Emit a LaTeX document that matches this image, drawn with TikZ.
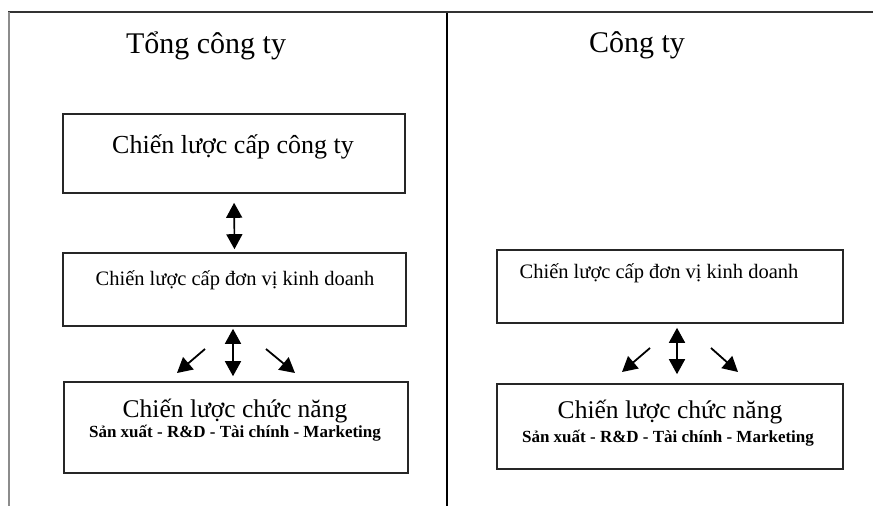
\documentclass[tikz,border=0pt]{standalone}
\usepackage{fontspec}
\setmainfont{Liberation Serif}
\usetikzlibrary{arrows.meta}
\tikzset{
  box/.style={draw=black!85, line width=1.6pt, rectangle, inner sep=0pt},
  lbl/.style={anchor=base, inner sep=0pt},
  tip/.tip={Triangle[length=15pt,width=16pt]},
  dbl/.style={line width=1.6pt, tip-tip},
  one/.style={line width=1.8pt, -tip},
  rule/.style={line width=1.8pt}
}
\newcommand{\fs}[1]{\fontsize{#1}{#1}\selectfont}
\begin{document}
\begin{tikzpicture}[x=1pt, y=-1pt]
\useasboundingbox (0,0) rectangle (873,506);

% frame lines
\coordinate (tl) at (8,12);
\coordinate (tr) at (873,12);
\coordinate (bl) at (9,506);
\coordinate (mt) at (447,13);
\coordinate (mb) at (447,506);
\draw[rule, draw=black!80] (tl) -- (tr);
\draw[line width=2.4pt, draw=black!45] (9,12) -- (bl);
\draw[line width=1.5pt, draw=black] (mt) -- (mb);

% column titles
\node[lbl] (tTong) at (206,53) {\fs{30}Tổng công ty};
\node[lbl] (tCty) at (637,52) {\fs{30}Công ty};

% left column boxes
\node[box, minimum width=342pt, minimum height=79pt] (b1) at (234,153.5) {};
\node[box, minimum width=343pt, minimum height=73pt] (b2) at (234.5,289.5) {};
\node[box, minimum width=344pt, minimum height=91pt] (b3) at (236,427.5) {};

\node[lbl] (b1t) at (233,153) {\fs{26}Chiến lược cấp công ty};
\node[lbl] (b2t) at (235,285) {\fs{20.5}Chiến lược cấp đơn vị kinh doanh};
\node[lbl] (b3t) at (235,417) {\fs{25.5}Chiến lược chức năng};
\node[lbl] (b3s) at (235,437) {\fs{17}\bfseries Sản xuất - R\&D - Tài chính - Marketing};

% right column boxes
\node[box, minimum width=346pt, minimum height=73pt] (r2) at (670,286.5) {};
\node[box, minimum width=346pt, minimum height=85pt] (r3) at (670,426.5) {};

\node[lbl] (r2t) at (659,278) {\fs{20.5}Chiến lược cấp đơn vị kinh doanh};
\node[lbl] (r3t) at (670,418) {\fs{25.5}Chiến lược chức năng};
\node[lbl] (r3s) at (668,442) {\fs{17}\bfseries Sản xuất - R\&D - Tài chính - Marketing};

% left column connectors
\draw[dbl, shorten <=9pt, shorten >=3pt] (b1.south) -- (b2.north);
\draw[dbl, shorten <=2pt, shorten >=5pt] ([xshift=-1.5pt]b2.south) -- ([xshift=-3pt]b3.north);
\coordinate (la1) at (205,349);
\coordinate (la2) at (177,373);
\coordinate (lb1) at (266,349);
\coordinate (lb2) at (295,373);
\draw[one] (la1) -- (la2);
\draw[one] (lb1) -- (lb2);

% right column connectors
\draw[dbl, shorten <=4pt, shorten >=9pt] ([xshift=7pt]r2.south) -- ([xshift=7pt]r3.north);
\coordinate (ra1) at (650,348);
\coordinate (ra2) at (622,372);
\coordinate (rb1) at (711,348);
\coordinate (rb2) at (738,372);
\draw[one] (ra1) -- (ra2);
\draw[one] (rb1) -- (rb2);
\end{tikzpicture}
\end{document}
